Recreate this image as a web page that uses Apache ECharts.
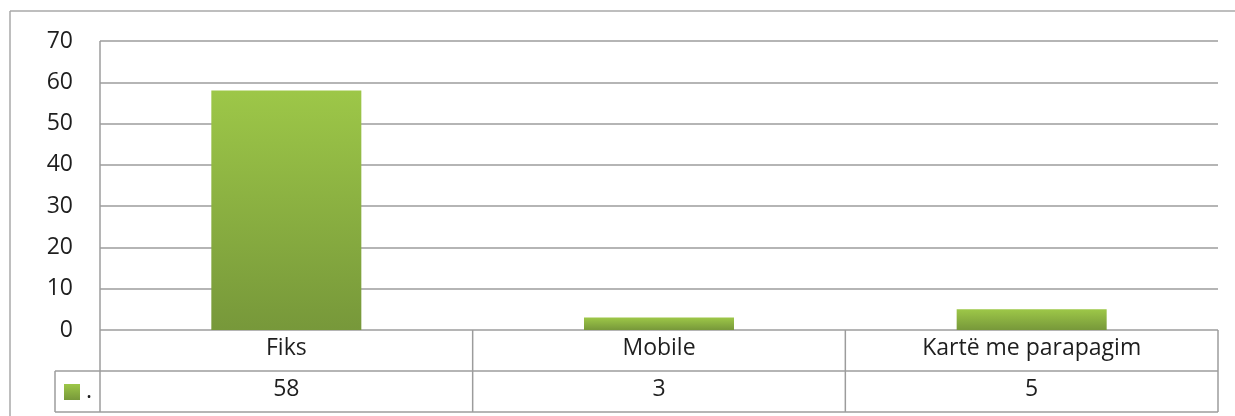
<!DOCTYPE html>
<html>
<head>
<meta charset="utf-8">
<script src="https://cdn.jsdelivr.net/npm/echarts@6/dist/echarts.min.js"></script>
<style>
  html, body { margin: 0; padding: 0; background: #fff; }
  #chart { width: 1235px; height: 416px; }
</style>
</head>
<body>
<div id="chart"></div>
<script>
const categories = ['Fiks', 'Mobile', 'Kartë me parapagim']
const values = [58, 3, 5]
const seriesName = '.'
const yTicks = [0, 70, 10] // min, max, interval

const FONT = '"Open Sans", "Liberation Sans", sans-serif'
const TEXT = '#1e1e1e'
const LINE = '#9c9c9c'
const FS = 23

const chart = echarts.init(document.getElementById('chart'))

const barColor = {
  type: 'linear', x: 0, y: 0, x2: 0, y2: 1,
  colorStops: [
    { offset: 0, color: '#9dc748' },
    { offset: 1, color: '#77983a' }
  ]
}

const option = {
  animation: false,
  grid: { left: 100, right: 17, top: 41, bottom: 86 },
  xAxis: [{
    type: 'category',
    data: categories,
    axisLine: { show: false },
    axisTick: { show: false },
    axisLabel: { color: TEXT, fontSize: FS, fontFamily: FONT, margin: 7 }
  }, {
    type: 'category',
    position: 'bottom',
    offset: 41,
    data: values.map(String),
    axisLine: { show: false },
    axisTick: { show: false },
    axisLabel: { color: TEXT, fontSize: FS, fontFamily: FONT, margin: 7 }
  }],
  yAxis: {
    type: 'value',
    min: yTicks[0],
    max: yTicks[1],
    interval: yTicks[2],
    axisLine: { show: false },
    axisTick: { show: false },
    axisLabel: { color: TEXT, fontSize: FS, fontFamily: FONT, margin: 27 },
    splitLine: { lineStyle: { color: LINE, width: 1.5 } }
  },
  series: [{
    name: seriesName,
    type: 'bar',
    data: values,
    barWidth: 150,
    itemStyle: {
      color: barColor,
      shadowColor: 'rgba(0,0,0,0.25)',
      shadowBlur: 3,
      shadowOffsetX: -1,
      shadowOffsetY: 1
    }
  }]
}

chart.setOption(option)

// data table lines + legend key, positioned from the axes
const x0 = chart.convertToPixel({ xAxisIndex: 0 }, 0)
const x1 = chart.convertToPixel({ xAxisIndex: 0 }, 1)
const band = x1 - x0
const left = x0 - band / 2
const right = left + band * categories.length
const yTop = chart.convertToPixel({ yAxisIndex: 0 }, yTicks[1])
const yZero = chart.convertToPixel({ yAxisIndex: 0 }, 0)
const rowH = 41
const yRow = yZero + rowH
const yBot = yRow + rowH
const keyLeft = 55

const ls = { stroke: LINE, lineWidth: 1.5 }
const line = (a, b, c, d) => ({ type: 'line', silent: true, shape: { x1: a, y1: b, x2: c, y2: d }, style: ls })

const g = [
  // outer frame
  { type: 'line', shape: { x1: 10, y1: 11, x2: 1235, y2: 11 }, style: { stroke: '#a8a8a8', lineWidth: 1.5 } },
  { type: 'line', shape: { x1: 10, y1: 11, x2: 10, y2: 416 }, style: { stroke: '#a8a8a8', lineWidth: 1.5 } },
  // plot left edge down through table
  line(left, yTop, left, yBot),
  line(right, yZero, right, yBot),
  line(left, yRow, right, yRow),
  line(keyLeft, yBot, right, yBot),
  line(keyLeft, yRow, left, yRow),
  line(keyLeft, yRow, keyLeft, yBot)
]
for (let i = 1; i < categories.length; i++) {
  g.push(line(left + band * i, yZero, left + band * i, yBot))
}
// legend key
g.push({
  type: 'rect',
  shape: { x: 64, y: yRow + 13, width: 16, height: 16 },
  style: { fill: barColor }
})
g.push({
  type: 'text',
  style: { x: 86, y: yRow + 20, text: seriesName, fill: TEXT, font: FS + 'px ' + FONT, verticalAlign: 'middle' }
})

chart.setOption({ graphic: g })
</script>
</body>
</html>
